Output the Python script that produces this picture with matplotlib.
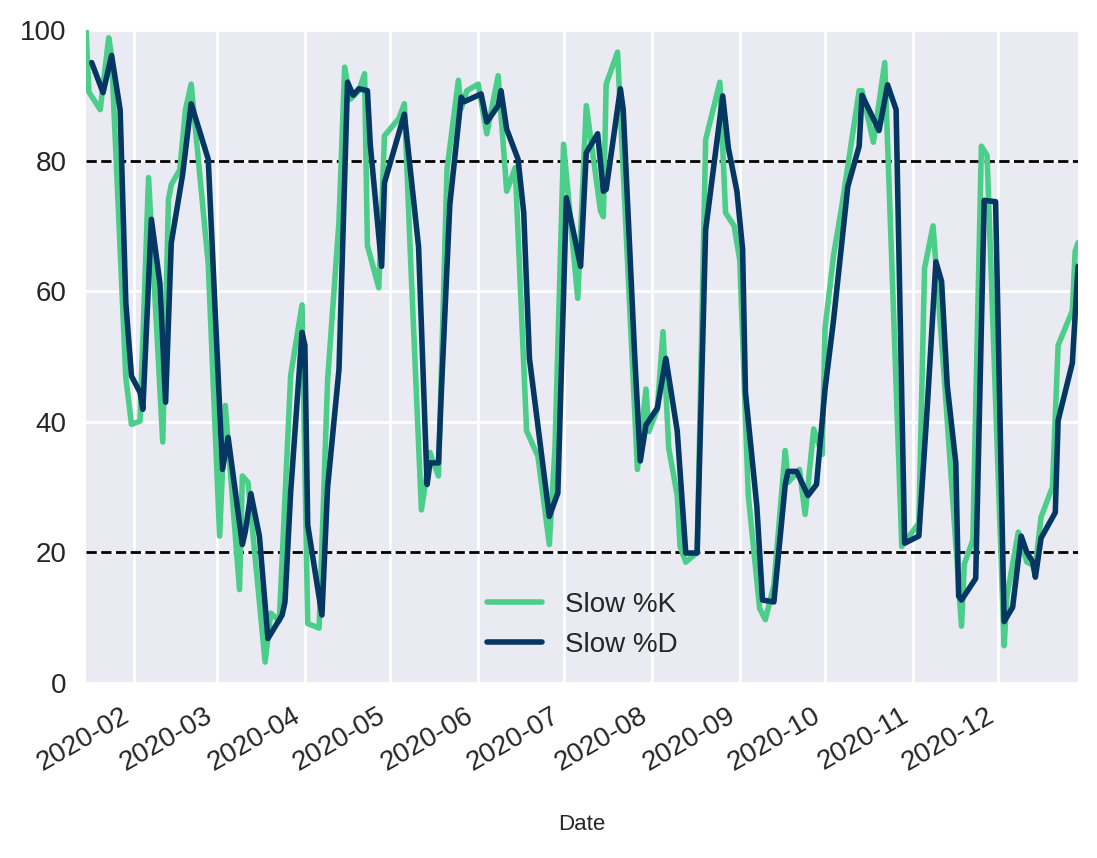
import numpy as np
import pandas as pd
import matplotlib
matplotlib.use('Agg')
import matplotlib.pyplot as plt
import matplotlib.dates as mdates

plt.style.use('seaborn-v0_8')
plt.rcParams['font.family'] = ['Liberation Sans', 'DejaVu Sans']

# Slow %K (vertices)
k_fechas = ['2020-01-15', '2020-01-16', '2020-01-20', '2020-01-23', '2020-01-24',
            '2020-01-29', '2020-01-31', '2020-02-03', '2020-02-06', '2020-02-11',
            '2020-02-13', '2020-02-14', '2020-02-17', '2020-02-19', '2020-02-21',
            '2020-02-27', '2020-03-02', '2020-03-04', '2020-03-09', '2020-03-10',
            '2020-03-12', '2020-03-18', '2020-03-20', '2020-03-23', '2020-03-27',
            '2020-03-31', '2020-04-02', '2020-04-06', '2020-04-09', '2020-04-13',
            '2020-04-15', '2020-04-17', '2020-04-20', '2020-04-22', '2020-04-23',
            '2020-04-27', '2020-04-29', '2020-05-04', '2020-05-06', '2020-05-08',
            '2020-05-12', '2020-05-15', '2020-05-16', '2020-05-18', '2020-05-21',
            '2020-05-25', '2020-05-26', '2020-05-28', '2020-06-01', '2020-06-04',
            '2020-06-08', '2020-06-11', '2020-06-14', '2020-06-18', '2020-06-22',
            '2020-06-26', '2020-06-28', '2020-07-01', '2020-07-06', '2020-07-09',
            '2020-07-14', '2020-07-15', '2020-07-16', '2020-07-20', '2020-07-27',
            '2020-07-30', '2020-07-31', '2020-08-03', '2020-08-05', '2020-08-07',
            '2020-08-10', '2020-08-11', '2020-08-13', '2020-08-17', '2020-08-20',
            '2020-08-25', '2020-08-27', '2020-08-30', '2020-09-01', '2020-09-04',
            '2020-09-08', '2020-09-10', '2020-09-13', '2020-09-17', '2020-09-18',
            '2020-09-22', '2020-09-24', '2020-09-27', '2020-09-30', '2020-10-01',
            '2020-10-04', '2020-10-07', '2020-10-13', '2020-10-14', '2020-10-18',
            '2020-10-22', '2020-10-28', '2020-11-03', '2020-11-05', '2020-11-08',
            '2020-11-12', '2020-11-18', '2020-11-19', '2020-11-22', '2020-11-25',
            '2020-11-27', '2020-12-03', '2020-12-04', '2020-12-08', '2020-12-11',
            '2020-12-14', '2020-12-16', '2020-12-20', '2020-12-22', '2020-12-27',
            '2020-12-28', '2020-12-29']
k_valores = [100, 90.5, 87.8, 98.8, 96,
             46.8, 39.6, 40.1, 77.4, 36.9,
             74, 76.3, 78.6, 87.8, 91.7,
             64.2, 22.5, 42.5, 14.3, 31.7,
             30.7, 3.2, 10.7, 9.5, 47.1,
             57.9, 9.1, 8.4, 46.4, 70.7,
             94.3, 89.4, 90.7, 93.3, 67,
             60.5, 83.8, 86.4, 88.7, 66.8,
             26.5, 35.3, 34, 31.7, 78.6,
             92.3, 88, 90.7, 91.7, 84.1,
             93, 75.3, 78.9, 38.6, 34.7,
             21.2, 36, 82.5, 58.9, 88.4,
             72.3, 71.4, 91.7, 96.6, 32.7,
             45, 38.5, 41.9, 53.8, 36,
             28.7, 20.9, 18.5, 20, 83.2,
             92, 72, 70, 64.8, 28.7,
             11.4, 9.7, 15, 35.6, 30.7,
             32.7, 25.8, 38.9, 35, 54.3,
             65.5, 73.3, 90.7, 90.7, 82.8,
             95, 20.9, 24.5, 63.5, 70,
             46.4, 8.7, 18.2, 21.9, 82.2,
             80.8, 5.7, 13.3, 23.1, 18.5,
             17.9, 25.4, 30, 51.7, 57,
             66.1, 67.4]

# Slow %D
d_fechas = ['2020-01-17', '2020-01-21', '2020-01-24', '2020-01-27', '2020-01-29',
            '2020-01-31', '2020-02-03', '2020-02-04', '2020-02-07', '2020-02-10',
            '2020-02-12', '2020-02-14', '2020-02-18', '2020-02-21', '2020-02-27',
            '2020-03-03', '2020-03-05', '2020-03-10', '2020-03-11', '2020-03-13',
            '2020-03-16', '2020-03-19', '2020-03-24', '2020-03-25', '2020-03-27',
            '2020-03-31', '2020-04-01', '2020-04-02', '2020-04-07', '2020-04-09',
            '2020-04-13', '2020-04-16', '2020-04-18', '2020-04-20', '2020-04-23',
            '2020-04-24', '2020-04-28', '2020-04-29', '2020-05-06', '2020-05-11',
            '2020-05-14', '2020-05-15', '2020-05-18', '2020-05-19', '2020-05-22',
            '2020-05-26', '2020-05-27', '2020-06-02', '2020-06-04', '2020-06-08',
            '2020-06-09', '2020-06-11', '2020-06-15', '2020-06-17', '2020-06-19',
            '2020-06-26', '2020-06-29', '2020-07-02', '2020-07-07', '2020-07-09',
            '2020-07-13', '2020-07-15', '2020-07-16', '2020-07-21', '2020-07-22',
            '2020-07-26', '2020-07-28', '2020-07-30', '2020-08-03', '2020-08-06',
            '2020-08-10', '2020-08-13', '2020-08-17', '2020-08-20', '2020-08-26',
            '2020-08-28', '2020-08-31', '2020-09-02', '2020-09-03', '2020-09-07',
            '2020-09-09', '2020-09-13', '2020-09-17', '2020-09-18', '2020-09-21',
            '2020-09-25', '2020-09-28', '2020-10-01', '2020-10-04', '2020-10-09',
            '2020-10-13', '2020-10-14', '2020-10-20', '2020-10-23', '2020-10-26',
            '2020-10-29', '2020-11-03', '2020-11-06', '2020-11-09', '2020-11-11',
            '2020-11-13', '2020-11-16', '2020-11-17', '2020-11-18', '2020-11-23',
            '2020-11-26', '2020-11-30', '2020-12-03', '2020-12-06', '2020-12-09',
            '2020-12-11', '2020-12-13', '2020-12-14', '2020-12-16', '2020-12-21',
            '2020-12-22', '2020-12-27', '2020-12-29']
d_valores = [95, 90.4, 96.1, 87.8, 58.3,
             47, 44.5, 41.9, 71, 61.2,
             43, 67.4, 77.9, 88.7, 80.2,
             32.7, 37.6, 21.2, 23.1, 29,
             22.5, 6.8, 10.4, 12.4, 29.2,
             53.7, 51.7, 24.2, 10.4, 30,
             48, 92, 90, 91, 90.7,
             82.5, 63.8, 76.6, 87.1, 66.8,
             30.4, 33.7, 33.7, 44.5, 73.3,
             89.7, 89, 90.2, 85.9, 88.4,
             90.7, 84.8, 80.2, 72, 49.7,
             25.5, 29.1, 74.3, 63.8, 81.2,
             84.1, 75.3, 75.6, 91, 87.8,
             50.4, 34, 39.5, 42.1, 49.7,
             38.6, 19.9, 19.9, 69.4, 89.9,
             81.9, 75.3, 66.4, 44.5, 27.1,
             12.7, 12.4, 30.4, 32.4, 32.4,
             28.7, 30.4, 45, 55.6, 76,
             82.2, 90, 84.6, 91.6, 87.8,
             21.4, 22.5, 42.5, 64.5, 61.5,
             45.5, 33.7, 13.3, 12.7, 16,
             73.9, 73.7, 9.4, 11.6, 22.5,
             20, 18.6, 16.2, 22.2, 26.1,
             40.2, 49, 63.8]

fig = plt.figure(figsize=(5.485, 4.29), dpi=200)
ax = fig.add_axes([0.0784, 0.204, 0.9043, 0.7611])

ax.axhline(80, color='k', ls='--', lw=1)
ax.axhline(20, color='k', ls='--', lw=1)
ax.plot(pd.to_datetime(k_fechas), k_valores, color='#4bce8a', lw=2, label='Slow %K')
ax.plot(pd.to_datetime(d_fechas), d_valores, color='#063763', lw=2, label='Slow %D')

ax.set_ylim(0, 100)
ax.set_xlim(pd.Timestamp('2020-01-15'), pd.Timestamp('2020-12-29'))
ax.xaxis.set_major_locator(mdates.MonthLocator())
ax.xaxis.set_major_formatter(mdates.DateFormatter('%Y-%m'))
plt.setp(ax.get_xticklabels(), rotation=30, ha='right')

ax.set_xlabel('Date', fontsize=8)
ax.xaxis.set_label_coords(0.5, -0.2)
ax.legend(loc='lower center', fontsize=10)

fig.savefig('out.png', dpi=200)
